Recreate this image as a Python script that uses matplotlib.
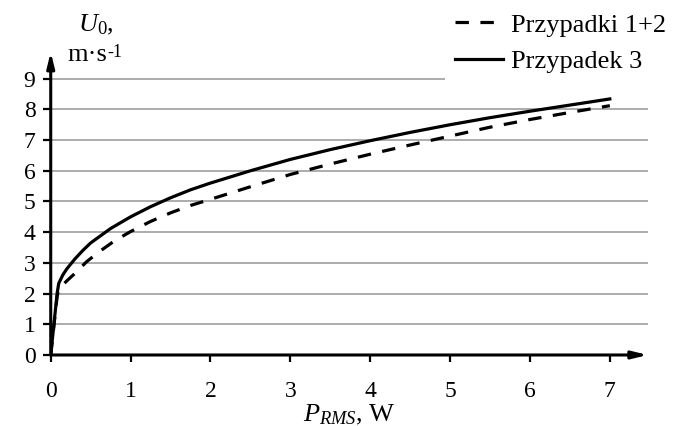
import numpy as np
import matplotlib
matplotlib.use("Agg")
import matplotlib.pyplot as plt
from matplotlib.lines import Line2D

plt.rcParams['font.family'] = ['Liberation Serif', 'DejaVu Serif']
plt.rcParams['mathtext.fontset'] = 'custom'
plt.rcParams['mathtext.rm'] = 'Liberation Serif'
plt.rcParams['mathtext.it'] = 'Liberation Serif:italic'

# cases 1+2: RMS power (W) and velocity amplitude U0 (m/s)
p_case12 = [0, 0.04, 0.08, 0.1, 0.2, 0.3, 0.45, 0.6, 0.8, 1, 1.25, 1.5, 1.75, 2, 2.5,
            3, 3.5, 4, 4.5, 5, 5.5, 6, 6.5, 7]
u_case12 = [0, 0.95, 1.9, 2.15, 2.41, 2.65, 3.04, 3.35, 3.72, 4.02, 4.35, 4.63, 4.87,
            5.07, 5.48, 5.88, 6.22, 6.54, 6.84, 7.13, 7.42, 7.67, 7.9, 8.12]
# case 3
p_case3 = [0, 0.04, 0.08, 0.1, 0.15, 0.2, 0.3, 0.4, 0.5, 0.75, 1, 1.25, 1.5, 1.75, 2,
           2.5, 3, 3.5, 4, 4.5, 5, 5.5, 6, 6.5, 7]
u_case3 = [0, 1.0, 2.0, 2.33, 2.6, 2.8, 3.12, 3.4, 3.65, 4.12, 4.5, 4.83, 5.12, 5.38,
           5.6, 6.0, 6.37, 6.69, 6.98, 7.25, 7.5, 7.73, 7.94, 8.14, 8.34]

xticks = list(range(0, 8))
yticks = list(range(0, 10))

fig = plt.figure(figsize=(6.79, 4.26), dpi=100)
ax = fig.add_axes([0.0747, 0.1667, 0.8793, 0.7113])
xmax, ymax = 7.475, 9.87
ax.set_xlim(0, xmax)
ax.set_ylim(0, ymax)

for y in yticks[1:]:
    ax.axhline(y, color='#a6a6a6', lw=1.3, zorder=1)

ax.plot(p_case12, u_case12, color='black', lw=2.3, dashes=(4.2, 3.6), zorder=3)
ax.plot(p_case3, u_case3, color='black', lw=2.3, zorder=4)

for s in ax.spines.values():
    s.set_visible(False)

# axes drawn as arrows
arrow = dict(arrowstyle='-|>,head_length=0.9,head_width=0.22', color='black', lw=2.2,
             shrinkA=0, shrinkB=0)
ax.annotate('', xy=(1.0, 0), xytext=(0, 0), xycoords='axes fraction', arrowprops=arrow,
            annotation_clip=False, zorder=5)
ax.annotate('', xy=(0, 1.0), xytext=(0, 0), xycoords='axes fraction', arrowprops=arrow,
            annotation_clip=False, zorder=5)

ax.set_xticks(xticks)
ax.set_yticks(yticks)
ax.tick_params(axis='x', direction='out', length=5, width=1.6, pad=14, labelsize=17)
ax.tick_params(axis='y', direction='out', length=6, width=1.6, pad=5, labelsize=17)

ax.set_xlabel(r'$P_{RMS}$, W', fontsize=19, labelpad=0)
fig.text(78 / 679, 1 - 31 / 426, r'$U_0$,', fontsize=19, ha='left', va='baseline')
unit = fig.text(67 / 679, 1 - 61 / 426, 'm·s', fontsize=19, ha='left', va='baseline')
# superscript with a plain hyphen, set just after "m·s"
ax.annotate('-1', xy=(1.0, 1.0), xycoords=unit, fontsize=13, ha='left', va='top',
            annotation_clip=False)

handles = [Line2D([], [], color='black', lw=2.3, dashes=(4.2, 3.6)),
           Line2D([], [], color='black', lw=2.3)]
leg = fig.legend(handles, ['Przypadki 1+2', 'Przypadek 3'], loc='upper right',
                 bbox_to_anchor=(1.0, 1.0), fontsize=19, frameon=True, fancybox=False,
                 handlelength=1.8, handletextpad=0.3, labelspacing=0.5,
                 borderpad=0.4, borderaxespad=0.1)
leg.get_frame().set_facecolor('white')
leg.get_frame().set_edgecolor('none')
leg.get_frame().set_alpha(1)
leg.set_zorder(10)

fig.savefig('out.png', dpi=100)
